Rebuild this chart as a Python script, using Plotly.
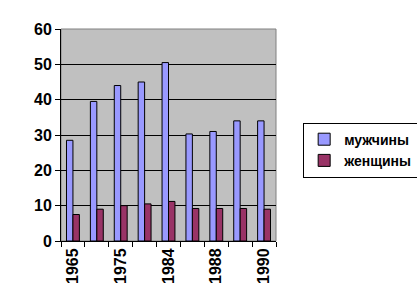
import plotly.graph_objects as go

years = ["1965", "1970", "1975", "1980", "1984", "1986", "1988", "1989", "1990"]
tick_labels = ["1965", "", "1975", "", "1984", "", "1988", "", "1990"]
men = [28.5, 39.5, 44, 45, 50.5, 30.3, 31, 34, 34]
women = [7.5, 9, 10, 10.5, 11.2, 9.2, 9.2, 9.2, 9]

fig = go.Figure()
fig.add_trace(go.Bar(x=years, y=men, name="мужчины",
                     marker=dict(color="#9999FF", line=dict(color="#000000", width=1))))
fig.add_trace(go.Bar(x=years, y=women, name="женщины",
                     marker=dict(color="#993366", line=dict(color="#000000", width=1))))

fam = "Liberation Sans, Arial"
tf = dict(family=fam, size=16, color="#000000", weight="bold")
fig.update_layout(
    width=417, height=302,
    margin=dict(l=61, r=141, t=29, b=61, autoexpand=False),
    paper_bgcolor="#FFFFFF", plot_bgcolor="#C0C0C0",
    barmode="group", bargap=0.46, bargroupgap=0,
    font=dict(family=fam, size=15, color="#000000"),
    showlegend=True,
    legend=dict(xref="container", yref="container", x=0.727, y=0.503,
                xanchor="left", yanchor="middle",
                bgcolor="#FFFFFF", bordercolor="#000000", borderwidth=1,
                font=dict(family=fam, size=14, color="#000000", weight="bold"),
                itemwidth=30, tracegroupgap=0),
    xaxis=dict(type="category", tickmode="array", tickvals=years, ticktext=tick_labels,
               tickangle=-90, tickson="boundaries", ticks="outside", ticklen=5,
               tickcolor="#000000", showline=True, linecolor="#000000", linewidth=1,
               showgrid=False, tickfont=tf, fixedrange=True, automargin=False),
    yaxis=dict(range=[0, 60], dtick=10, ticks="outside", ticklen=5, tickcolor="#000000",
               showline=True, linecolor="#000000", linewidth=1,
               showgrid=True, gridcolor="#000000", gridwidth=1, zeroline=False,
               tickfont=tf, fixedrange=True, automargin=False),
    shapes=[dict(type="rect", xref="paper", yref="paper", x0=0, y0=0, x1=1, y1=1,
                 line=dict(color="#808080", width=1), layer="below")],
)
fig.write_html("out.html")
